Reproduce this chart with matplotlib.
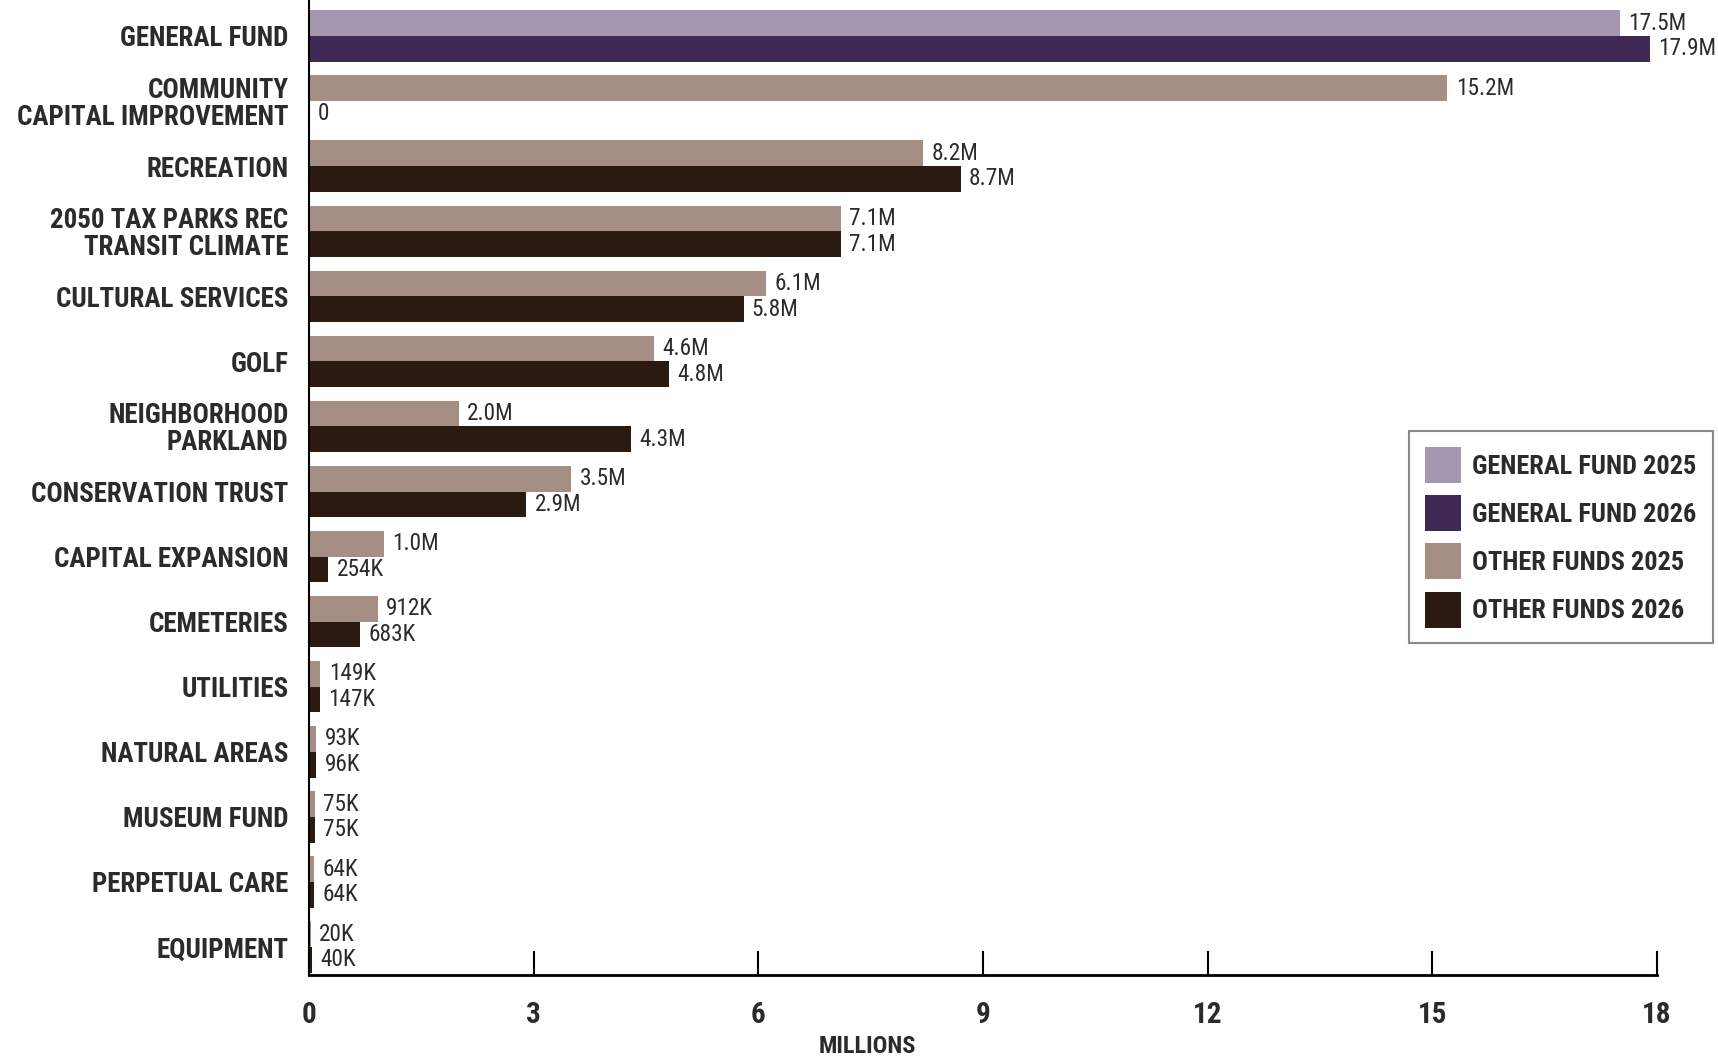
import matplotlib
matplotlib.use("Agg")
import matplotlib.pyplot as plt
from matplotlib.patches import Patch
from matplotlib import font_manager as fm
import numpy as np

categories = ["GENERAL FUND", "COMMUNITY\nCAPITAL IMPROVEMENT", "RECREATION",
              "2050 TAX PARKS REC\nTRANSIT CLIMATE", "CULTURAL SERVICES", "GOLF",
              "NEIGHBORHOOD\nPARKLAND", "CONSERVATION TRUST", "CAPITAL EXPANSION",
              "CEMETERIES", "UTILITIES", "NATURAL AREAS", "MUSEUM FUND",
              "PERPETUAL CARE", "EQUIPMENT"]
values_2025 = [17.5, 15.2, 8.2, 7.1, 6.1, 4.6, 2.0, 3.5, 1.0, 0.912, 0.149, 0.093, 0.075, 0.064, 0.020]
values_2026 = [17.9, 0.0, 8.7, 7.1, 5.8, 4.8, 4.3, 2.9, 0.254, 0.683, 0.147, 0.096, 0.075, 0.064, 0.040]
labels_2025 = ["17.5M", "15.2M", "8.2M", "7.1M", "6.1M", "4.6M", "2.0M", "3.5M", "1.0M", "912K", "149K", "93K", "75K", "64K", "20K"]
labels_2026 = ["17.9M", "0", "8.7M", "7.1M", "5.8M", "4.8M", "4.3M", "2.9M", "254K", "683K", "147K", "96K", "75K", "64K", "40K"]
xticks = [0, 3, 6, 9, 12, 15, 18]
legend_labels = ["GENERAL FUND 2025", "GENERAL FUND 2026", "OTHER FUNDS 2025", "OTHER FUNDS 2026"]

c_gf25 = "#a597b0"
c_gf26 = "#3f2a56"
c_of25 = "#a58e84"
c_of26 = "#2a1a10"
txt = "#2b2b2b"

# pick the narrowest installed family available
names = {f.name for f in fm.fontManager.ttflist}
dejavu_cond = any(f.name == "DejaVu Sans" and "condensed" in str(f.stretch).lower()
                  for f in fm.fontManager.ttflist)
if "Roboto Condensed" in names:
    FAM, STRETCH = ["Roboto Condensed", "DejaVu Sans"], "normal"
elif "Liberation Sans Narrow" in names:
    FAM, STRETCH = ["Liberation Sans Narrow", "DejaVu Sans"], "normal"
elif dejavu_cond:
    FAM, STRETCH = ["DejaVu Sans"], "condensed"
else:
    FAM, STRETCH = ["DejaVu Sans"], "normal"
plt.rcParams["font.family"] = FAM
plt.rcParams["font.stretch"] = STRETCH

fig = plt.figure(figsize=(17.18, 10.56), dpi=100)
renderer = fig.canvas.get_renderer()


def fit_size(s, weight, target_px, max_pt):
    t = fig.text(0, 0, s, fontsize=20, fontweight=weight, fontstretch=STRETCH)
    w = t.get_window_extent(renderer).width
    t.remove()
    return min(max_pt, 20 * target_px / w)


cat_size = fit_size("CAPITAL IMPROVEMENT", "bold", 272, 22)
val_size = fit_size("17.5M", "normal", 58, 20)
leg_size = fit_size("GENERAL FUND 2025", "bold", 228, 19)
xl_size = fit_size("MILLIONS", "bold", 98, 18)

ax = fig.add_axes([0.18, 0.0767, 0.7845, 0.9233])

y = np.arange(len(categories))
h = 0.395
cols25 = [c_gf25] + [c_of25] * (len(categories) - 1)
cols26 = [c_gf26] + [c_of26] * (len(categories) - 1)
b1 = ax.barh(y - h / 2, values_2025, height=h, color=cols25)
b2 = ax.barh(y + h / 2, values_2026, height=h, color=cols26)

for bars, labs in ((b1, labels_2025), (b2, labels_2026)):
    for rect, lab in zip(bars, labs):
        ax.annotate(lab, (rect.get_width(), rect.get_y() + rect.get_height() / 2),
                    xytext=(6, 0), textcoords="offset points",
                    ha="left", va="center", fontsize=val_size, color=txt,
                    fontstretch=STRETCH)

ax.set_xlim(0, 18)
ax.set_ylim(14.43, -0.553)
ax.set_yticks(y)
ax.set_yticklabels(categories, fontsize=cat_size, fontweight="bold", color=txt,
                   linespacing=1.0, fontstretch=STRETCH)
ax.tick_params(axis="y", length=0, pad=15)
ax.set_xticks(xticks)
ax.set_xticklabels([str(t) for t in xticks], fontsize=21, fontweight="bold",
                   color=txt, fontstretch=STRETCH)
ax.tick_params(axis="x", direction="in", length=17, width=1.5, pad=19, color="black")

for s in ("top", "right"):
    ax.spines[s].set_visible(False)
ax.spines["left"].set_linewidth(1.5)
ax.spines["bottom"].set_linewidth(2)

ax.set_xlabel("MILLIONS", fontsize=xl_size, fontweight="bold", color=txt, fontstretch=STRETCH)
ax.xaxis.set_label_coords(0.414, -0.062)

handles = [Patch(facecolor=c) for c in (c_gf25, c_gf26, c_of25, c_of26)]
leg = ax.legend(handles, legend_labels, loc="upper right",
                bbox_to_anchor=(0.997, 1 - 431 / 1056), bbox_transform=fig.transFigure,
                borderaxespad=0,
                prop=fm.FontProperties(family=FAM, size=leg_size, weight="bold", stretch=STRETCH),
                handlelength=25.9 / leg_size, handleheight=1.72 * 19 / leg_size,
                labelspacing=8.8 / leg_size,
                handletextpad=8.5 / leg_size, borderpad=11.5 / leg_size,
                fancybox=False, framealpha=1)
leg.get_frame().set_edgecolor("#8a8a8a")
leg.get_frame().set_linewidth(1.5)
for t in leg.get_texts():
    t.set_color(txt)

fig.savefig("out.png", dpi=100)
